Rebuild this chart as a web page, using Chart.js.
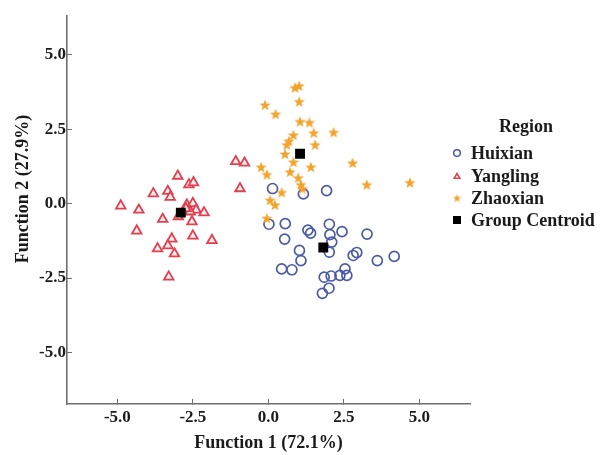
<!DOCTYPE html>
<html><head><meta charset="utf-8">
<script src="https://cdn.jsdelivr.net/npm/chart.js@4/dist/chart.umd.min.js"></script>
<style>html,body{margin:0;padding:0;background:#fff}</style>
</head><body>
<canvas id="c" width="602" height="455"></canvas>
<script>
// ---- data ----
const xTicks = [-5, -2.5, 0, 2.5, 5];
const yTicks = [-5, -2.5, 0, 2.5, 5];
const xTitle = 'Function 1 (72.1%)';
const yTitle = 'Function 2 (27.9%)';
const legendTitle = 'Region';
const seriesNames = ['Huixian', 'Yangling', 'Zhaoxian', 'Group Centroid'];

const huixian = [[0.14,0.51],[1.16,0.33],[1.93,0.44],[0.02,-0.69],[0.56,-0.67],[1.31,-0.89],[1.40,-0.99],
  [2.02,-0.69],[2.44,-0.94],[3.27,-1.02],[0.54,-1.19],[2.04,-1.04],[2.10,-1.29],[1.03,-1.57],[2.02,-1.63],
  [2.81,-1.74],[2.93,-1.64],[4.17,-1.77],[3.61,-1.91],[1.08,-1.91],[0.44,-2.19],[0.78,-2.22],[1.85,-2.47],
  [2.08,-2.43],[2.37,-2.41],[2.60,-2.41],[2.54,-2.19],[2.01,-2.84],[1.79,-3.01]];
const yangling = [[-3.00,0.93],[-2.63,0.64],[-2.48,0.71],[-3.81,0.34],[-3.33,0.42],[-3.25,0.22],[-4.89,-0.07],
  [-4.29,-0.21],[-3.50,-0.52],[-2.70,-0.04],[-2.50,0.01],[-2.39,-0.21],[-2.13,-0.30],[-2.53,-0.60],[-2.59,-0.27],
  [-2.73,-0.16],[-4.36,-0.91],[-2.50,-1.08],[-1.87,-1.23],[-3.20,-1.18],[-3.33,-1.41],[-3.67,-1.51],[-3.11,-1.68],
  [-3.30,-2.46],[-2.98,-0.43],[-1.08,1.42],[-0.79,1.37],[-0.94,0.51]];
const zhaoxian = [[0.88,3.90],[1.02,3.96],[-0.11,3.32],[1.02,3.43],[0.24,3.01],[1.05,2.76],[1.36,2.73],
  [1.50,2.38],[2.16,2.40],[0.83,2.31],[0.68,2.11],[0.61,1.98],[1.55,1.98],[0.55,1.67],[0.83,1.40],[1.41,1.23],
  [-0.24,1.23],[-0.05,0.98],[0.72,1.07],[0.99,0.87],[1.08,0.64],[1.13,0.51],[0.44,0.38],[0.06,0.12],[0.22,-0.04],
  [-0.05,-0.49],[2.79,1.37],[3.26,0.64],[4.69,0.71]];
const centroids = [[1.82,-1.47],[-2.90,-0.30],[1.05,1.68]];

// ---- styles ----
const COL_H = '#4c5aa6', COL_Y = '#e0404f', COL_Z = '#f2a32e', COL_C = '#000000';
const FONT = '"Liberation Serif", "Times New Roman", serif';
const TEXT = '#1a1a1a';
const AXIS = '#6e6e6e';

function makeStar(size, color) {
  const c = document.createElement('canvas');
  c.width = size; c.height = size;
  const g = c.getContext('2d');
  g.fillStyle = color;
  g.beginPath();
  const cx = size / 2, cy = size / 2 + 0.5;
  for (let i = 0; i < 10; i++) {
    const r = i % 2 ? size * 0.2 : size * 0.5;
    const a = -Math.PI / 2 + i * Math.PI / 5;
    const px = cx + r * Math.cos(a), py = cy + r * Math.sin(a);
    i ? g.lineTo(px, py) : g.moveTo(px, py);
  }
  g.closePath(); g.fill();
  return c;
}
const starImg = makeStar(12, COL_Z);
const starSmall = makeStar(9, COL_Z);

const toPts = arr => arr.map(p => ({x: p[0], y: p[1]}));

const legendPlugin = {
  id: 'regionLegend',
  afterDraw(chart) {
    const ctx = chart.ctx;
    ctx.save();
    ctx.fillStyle = TEXT;
    ctx.font = 'bold 18px ' + FONT;
    ctx.textBaseline = 'middle';
    ctx.textAlign = 'center';
    ctx.fillText(legendTitle, 526, 127);
    // y axis title
    ctx.save();
    ctx.translate(23, 189);
    ctx.rotate(-Math.PI / 2);
    ctx.fillText(yTitle, 0, 0);
    ctx.restore();
    ctx.textAlign = 'left';
    const ys = [153, 176, 198, 220];
    const mx = 457;
    chart.data.datasets.forEach((ds, i) => {
      const y = ys[i];
      if (i === 0) {
        ctx.strokeStyle = COL_H; ctx.lineWidth = 1.5;
        ctx.beginPath(); ctx.arc(mx, y, 3.3, 0, Math.PI * 2); ctx.stroke();
      } else if (i === 1) {
        ctx.fillStyle = COL_Y;
        ctx.beginPath(); ctx.moveTo(mx, y - 4); ctx.lineTo(mx + 4.2, y + 3); ctx.lineTo(mx - 4.2, y + 3); ctx.closePath(); ctx.fill();
        ctx.fillStyle = '#ffffff';
        ctx.beginPath(); ctx.moveTo(mx, y - 0.8); ctx.lineTo(mx + 1.6, y + 1.6); ctx.lineTo(mx - 1.6, y + 1.6); ctx.closePath(); ctx.fill();
      } else if (i === 2) {
        ctx.drawImage(starSmall, mx - 4.5, y - 4.5);
      } else {
        ctx.fillStyle = COL_C;
        ctx.fillRect(mx - 4, y - 4, 8, 8);
      }
      ctx.fillStyle = TEXT;
      ctx.fillText(ds.label, 471, y + 1);
    });
    ctx.restore();
  }
};

new Chart(document.getElementById('c'), {
  type: 'scatter',
  data: {
    datasets: [
      {label: seriesNames[0], data: toPts(huixian), pointStyle: 'circle', pointRadius: 5,
       borderColor: COL_H, backgroundColor: 'rgba(0,0,0,0)', borderWidth: 1.7, order: 3},
      {label: seriesNames[1], data: toPts(yangling), pointStyle: 'triangle', pointRadius: 5.5,
       borderColor: COL_Y, backgroundColor: 'rgba(255,235,238,0.9)', borderWidth: 1.8, order: 2},
      {label: seriesNames[2], data: toPts(zhaoxian), pointStyle: starImg, pointRadius: 6,
       borderColor: COL_Z, backgroundColor: COL_Z, order: 1},
      {label: seriesNames[3], data: toPts(centroids), pointStyle: 'rect', pointRadius: 7,
       borderColor: COL_C, backgroundColor: COL_C, borderWidth: 0, order: 0}
    ]
  },
  options: {
    responsive: false,
    animation: false,
    events: [],
    layout: {padding: {left: 12, right: 132, top: 13, bottom: 1}},
    plugins: {legend: {display: false}, tooltip: {enabled: false}},
    scales: {
      x: {
        type: 'linear', position: 'bottom', min: -6.67, max: 6.68,
        afterBuildTicks: s => { s.ticks = xTicks.map(v => ({value: v})); },
        afterFit: s => { s.height = 50; },
        ticks: {font: {family: FONT, size: 17, weight: 'bold'}, color: TEXT, padding: 8,
                callback: v => Number(v).toFixed(1), maxRotation: 0, autoSkip: false},
        grid: {drawOnChartArea: false, drawTicks: true, tickLength: -5, color: AXIS, lineWidth: 1},
        border: {display: true, color: AXIS, width: 1.6},
        title: {display: true, text: xTitle, font: {family: FONT, size: 18, weight: 'bold'}, color: TEXT, padding: 0}
      },
      y: {
        type: 'linear', position: 'left', min: -6.73, max: 6.3,
        afterBuildTicks: s => { s.ticks = yTicks.map(v => ({value: v})); },
        afterFit: s => { s.width = 55; },
        ticks: {font: {family: FONT, size: 17, weight: 'bold'}, color: TEXT, padding: 6,
                callback: v => Number(v).toFixed(1), autoSkip: false},
        grid: {drawOnChartArea: false, drawTicks: true, tickLength: -5, color: AXIS, lineWidth: 1},
        border: {display: true, color: AXIS, width: 1.6},
        title: {display: false}
      }
    }
  },
  plugins: [legendPlugin]
});
</script>
</body></html>
